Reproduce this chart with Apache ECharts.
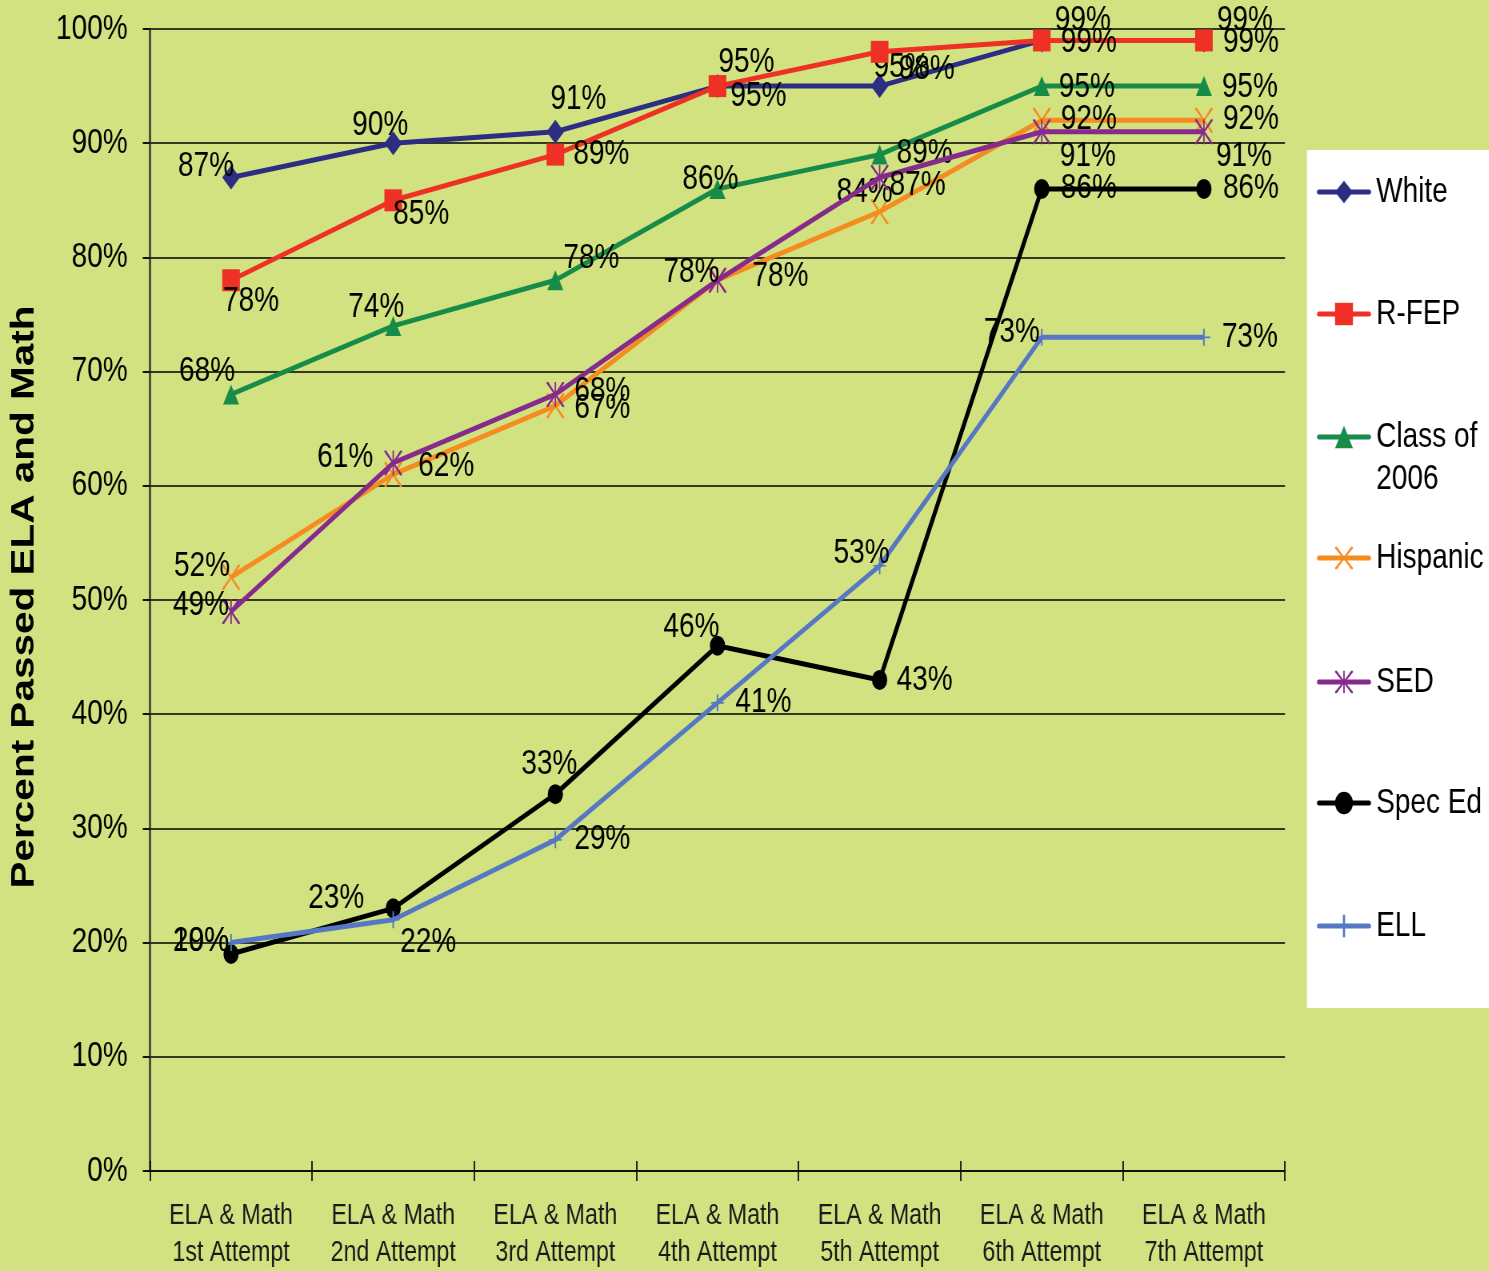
<!DOCTYPE html>
<html><head><meta charset="utf-8">
<script src="https://cdn.jsdelivr.net/npm/echarts@6/dist/echarts.min.js"></script>
<style>
html,body{margin:0;padding:0;background:#d2e281;overflow:hidden;}
#c{width:1862px;height:1271px;transform:scaleX(0.8);transform-origin:0 0;}
</style>
</head><body><div id="c"></div>
<script>
// ---- data ----
const categories = ['ELA & Math\n1st Attempt','ELA & Math\n2nd Attempt','ELA & Math\n3rd Attempt','ELA & Math\n4th Attempt','ELA & Math\n5th Attempt','ELA & Math\n6th Attempt','ELA & Math\n7th Attempt'];
const seriesNames = ['White','R-FEP','Class of 2006','Hispanic','SED','Spec Ed','ELL'];
const white = [87, 90, 91, 95, 95, 99, 99];
const rfep = [78, 85, 89, 95, 98, 99, 99];
const class2006 = [68, 74, 78, 86, 89, 95, 95];
const hispanic = [52, 61, 67, 78, 84, 92, 92];
const sed = [49, 62, 68, 78, 87, 91, 91];
const specEd = [19, 23, 33, 46, 43, 86, 86];
const ell = [20, 22, 29, 41, 53, 73, 73];
const yMin = 0, yMax = 100, yInterval = 10;

// ---- styling ----
const S = 0.8; // horizontal squeeze of the whole picture
const F = '"Liberation Sans", Arial, sans-serif';
const X_PATH = 'path://M0,0 L1,0 L5,4.4 L9,0 L10,0 L10,0.6 L5.6,5 L10,9.4 L10,10 L9,10 L5,5.6 L1,10 L0,10 L0,9.4 L4.4,5 L0,0.6 Z';
const AST_PATH = X_PATH + ' M4.6,0 L5.4,0 L5.4,10 L4.6,10 Z';
const PLUS_PATH = 'path://M4.4,0 L5.6,0 L5.6,10 L4.4,10 Z M0,4.5 L10,4.5 L10,5.5 L0,5.5 Z';
const styles = {
  'White':         {color:'#2b2e83', symbol:'diamond', size:[22,24]},
  'R-FEP':         {color:'#ee3124', symbol:'rect', size:[22,22]},
  'Class of 2006': {color:'#168c48', symbol:'triangle', size:[20,20]},
  'Hispanic':      {color:'#f68b1f', symbol:X_PATH, size:[22,25]},
  'SED':           {color:'#862a8c', symbol:AST_PATH, size:[22,25]},
  'Spec Ed':       {color:'#000000', symbol:'circle', size:[19,20]},
  'ELL':           {color:'#5577c4', symbol:PLUS_PATH, size:[16,17]}
};
// label centre offsets from the point, in picture pixels
const labelOffsets = {
  'White':         [[-25,-11],[-13,-18],[23,-32],[29,-24],[22,-19],[41,-20],[41,-20]],
  'R-FEP':         [[20,21],[28,14],[46,0],[41,10],[47,18],[47,2],[47,2]],
  'Class of 2006': [[-24,-23],[-17,-19],[36,-22],[-7,-10],[45,-1],[45,1],[46,1]],
  'Hispanic':      [[-29,-11],[-48,-17],[47,2],[63,-4],[-15,-19],[47,-1],[47,-1]],
  'SED':           [[-30,-6],[53,3],[47,-3],[-26,-8],[38,8],[46,25],[40,25]],
  'Spec Ed':       [[-30,-13],[-57,-10],[-6,-30],[-26,-18],[45,0],[47,-1],[47,-1]],
  'ELL':           [[-30,-1],[35,23],[47,0],[46,0],[-18,-12],[-30,-5],[46,0]]
};
const legendCenters = [192, 314, 437, 558, 682, 803, 926];
const values = [white, rfep, class2006, hispanic, sed, specEd, ell];

const series = seriesNames.map((n, k) => {
  const s = styles[n];
  return {
    name: n, type: 'line', xAxisIndex: 0, yAxisIndex: 0,
    symbol: s.symbol, symbolSize: s.size, showAllSymbol: true,
    lineStyle: {color: s.color, width: 5},
    itemStyle: {color: s.color},
    emphasis: {disabled: true},
    animation: false,
    z: 2 + k,
    label: {show: true, position: 'inside', formatter: '{c}%', color: '#000',
            fontFamily: F, fontSize: 35, align: 'center', verticalAlign: 'middle'},
    data: values[k].map((v, i) => ({value: v, label: {offset: [labelOffsets[n][i][0] / S, labelOffsets[n][i][1]]}}))
  };
});

const legends = seriesNames.map((n, i) => {
  const two = n === 'Class of 2006';
  return {
    data: [n], orient: 'vertical', left: 1317 / S, top: two ? legendCenters[i] - 63 : legendCenters[i] - 21,
    padding: 0, itemWidth: 50 / S, itemHeight: 28, selectedMode: false,
    lineStyle: {width: 5, cap: 'round'},
    formatter: two ? '\u00a0\nClass of\n2006' : '{name}',
    textStyle: {fontFamily: F, fontSize: 35, color: '#000', lineHeight: 42, padding: [0,0,0,4]}
  };
});

const chart = echarts.init(document.getElementById('c'), null, {renderer: 'canvas'});
chart.setOption({
  backgroundColor: '#d2e281',
  animation: false,
  textStyle: {fontFamily: F},
  grid: {left: 150 / S, right: 1862 - 1285 / S, top: 29, bottom: 99, containLabel: false},
  graphic: [
    {type: 'rect', left: 1307 / S, top: 150, shape: {width: 300, height: 858}, style: {fill: '#ffffff'}, z: 0},
    {type: 'text', x: 25 / S, y: 597, rotation: Math.PI / 2, z: 10,
     style: {text: 'Percent Passed ELA and Math', font: 'bold 40.5px "Liberation Sans", Arial, sans-serif',
             fill: '#000', align: 'center', verticalAlign: 'middle'}}
  ],
  legend: legends,
  xAxis: [
    {type: 'category', data: categories, boundaryGap: true,
     axisLine: {show: true, lineStyle: {color: '#111', width: 2}},
     axisTick: {show: true, interval: 0, length: 10, inside: false, lineStyle: {color: '#111', width: 1.8}},
     axisLabel: {interval: 0, margin: 26, fontFamily: F, fontSize: 29, lineHeight: 37, color: '#1a1a1a'},
     splitLine: {show: false}},
    {type: 'category', data: categories, boundaryGap: true, position: 'bottom',
     axisLine: {show: false},
     axisTick: {show: true, interval: 0, length: 10, inside: true, lineStyle: {color: '#111', width: 1.8}},
     axisLabel: {show: false}, splitLine: {show: false}}
  ],
  yAxis: {
    type: 'value', min: yMin, max: yMax, interval: yInterval,
    axisLine: {show: true, lineStyle: {color: '#333', width: 2.5}},
    axisTick: {show: true, length: 9, lineStyle: {color: '#111', width: 2}},
    axisLabel: {formatter: '{value}%', margin: 28, fontFamily: F, fontSize: 35, color: '#000'},
    splitLine: {show: true, lineStyle: {color: '#000', width: 1.5}}
  },
  series: series
});
</script>
</body></html>
